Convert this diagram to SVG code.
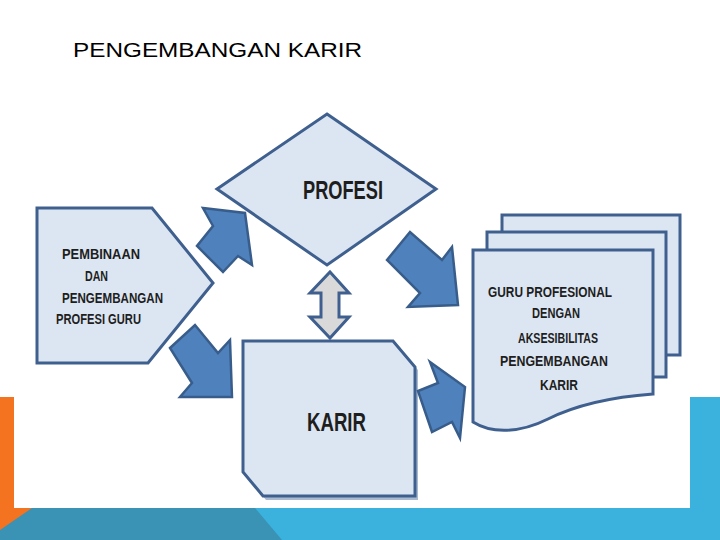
<svg xmlns="http://www.w3.org/2000/svg" width="720" height="540" viewBox="0 0 720 540">
<style>
.shape{fill:#dce6f2;stroke:#3f608e;stroke-width:3;stroke-linejoin:miter}
.arrow{fill:#4f81bd;stroke:#385d8a;stroke-width:2.5;stroke-linejoin:miter}
.dbl{fill:#d9d9d9;stroke:#3f608e;stroke-width:3;stroke-linejoin:miter}
.lbl{font-family:"Liberation Sans",Arial,sans-serif;font-weight:bold;fill:#1e1e1e}
.title{font-family:"Liberation Sans",Arial,sans-serif;font-size:20px;fill:#000}
</style>
<rect width="720" height="540" fill="#ffffff"/>
<g id="background">
<rect x="255" y="508" width="465" height="32" fill="#3bb1dd"/>
<rect x="690" y="397" width="30" height="143" fill="#3bb1dd"/>
<polygon points="0,508 255,508 282,540 0,540" fill="#3a92b4"/>
<rect x="0" y="397" width="14" height="111" fill="#f47320"/>
<polygon points="0,508 32,508 0,530" fill="#f47320"/>
</g>
<g id="title">
<text class="title" x="73" y="57" textLength="289" lengthAdjust="spacingAndGlyphs">PENGEMBANGAN KARIR</text>
</g>
<g id="node-pembinaan">
<polygon class="shape" points="37,208 152,208 213,283 148,363 37,363"/>
<text class="lbl" font-size="14" x="62" y="259" textLength="78" lengthAdjust="spacingAndGlyphs">PEMBINAAN</text>
<text class="lbl" font-size="14" x="85" y="281" textLength="23" lengthAdjust="spacingAndGlyphs">DAN</text>
<text class="lbl" font-size="14" x="62" y="303" textLength="101" lengthAdjust="spacingAndGlyphs">PENGEMBANGAN</text>
<text class="lbl" font-size="14" x="56" y="324" textLength="85" lengthAdjust="spacingAndGlyphs">PROFESI GURU</text>
</g>
<g id="node-profesi">
<polygon class="shape" points="327,114 436,189 327,265 217,189"/>
<text class="lbl" font-size="26" x="303" y="199" textLength="80" lengthAdjust="spacingAndGlyphs">PROFESI</text>
</g>
<g id="node-karir">
<polygon points="246,344 396,344 418,370 418,500 266,500 246,476" fill="#a9b9d0"/>
<polygon class="shape" points="243,341 393,341 415,367 415,496 263,496 243,472"/>
<text class="lbl" font-size="26" x="307" y="431" textLength="59" lengthAdjust="spacingAndGlyphs">KARIR</text>
</g>
<g id="node-guru">
<rect class="shape" x="502" y="215" width="178" height="140"/>
<rect class="shape" x="487" y="232" width="179" height="145"/>
<path class="shape" d="M473,250 L653,250 L653,394 C612,397 578,404 548,419 C520,433 492,434 473,422 Z"/>
<text class="lbl" font-size="14" x="488" y="297" textLength="124" lengthAdjust="spacingAndGlyphs">GURU PROFESIONAL</text>
<text class="lbl" font-size="14" x="532" y="318" textLength="48" lengthAdjust="spacingAndGlyphs">DENGAN</text>
<text class="lbl" font-size="14" x="518" y="343" textLength="80" lengthAdjust="spacingAndGlyphs">AKSESIBILITAS</text>
<text class="lbl" font-size="14" x="500" y="366" textLength="108" lengthAdjust="spacingAndGlyphs">PENGEMBANGAN</text>
<text class="lbl" font-size="14" x="540" y="390" textLength="38" lengthAdjust="spacingAndGlyphs">KARIR</text>
</g>
<g id="connectors">
<polygon id="arrow-pembinaan-profesi" class="arrow" points="203,208 245,213 252,265 238,256 223,272 197,246 213,226"/>
<polygon id="arrow-profesi-guru" class="arrow" points="387,260 410,232 442,260 452,247 458,305 408,307 420,293"/>
<polygon id="arrow-pembinaan-karir" class="arrow" points="170,348 195,325 218,353 230,340 232,397 180,397 192,383"/>
<polygon id="arrow-karir-guru" class="arrow" points="430,362 465,387 460,438 452,422 432,432 418,391 438,383"/>
<polygon id="arrow-profesi-karir" class="dbl" points="330,272 349,293 339,293 339,317 349,317 330,338 310,317 321,317 321,293 310,293"/>
</g>
</svg>
